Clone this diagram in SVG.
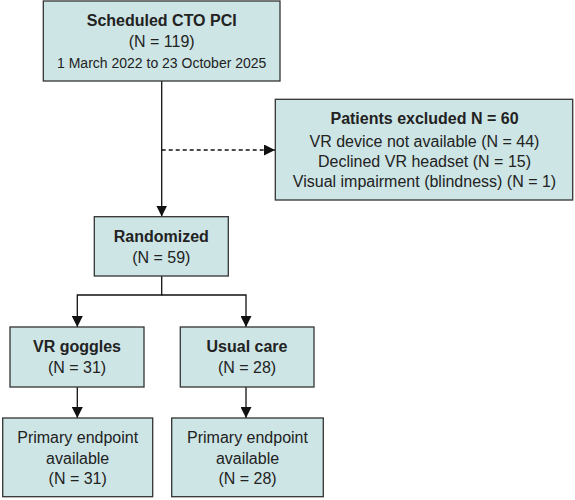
<svg xmlns="http://www.w3.org/2000/svg" width="575" height="500" viewBox="0 0 575 500">
<style>
.box{fill:#cde5e5;stroke:#333;stroke-width:1.3}
.t{font-family:"Liberation Sans",Arial,sans-serif;font-size:16px;fill:#222;text-anchor:middle}
.b{font-weight:bold}
.s{font-size:14px}
.ln{fill:none;stroke:#111;stroke-width:1.3}
.d{stroke-dasharray:4 3}
</style>
<defs>
<marker id="ah" markerWidth="11" markerHeight="11" refX="11" refY="5.5" orient="auto" markerUnits="userSpaceOnUse">
<path d="M0,0 L11,5.5 L0,11 z" fill="#111"/>
</marker>
</defs>
<g id="connectors">
<line class="ln" x1="161.7" y1="81" x2="161.7" y2="216.5" marker-end="url(#ah)"/>
<line class="ln d" x1="161.7" y1="150" x2="275" y2="150" marker-end="url(#ah)"/>
<polyline class="ln" points="161.7,276 161.7,295 77.3,295 77.3,327" marker-end="url(#ah)"/>
<polyline class="ln" points="161.7,295 246,295 246,327" marker-end="url(#ah)"/>
<line class="ln" x1="77.3" y1="387" x2="77.3" y2="418" marker-end="url(#ah)"/>
<line class="ln" x1="246" y1="387" x2="246" y2="418" marker-end="url(#ah)"/>
</g>
<g id="scheduled">
<rect class="box" x="43.3" y="1" width="236.7" height="80"/>
<text class="t b" x="161.7" y="26">Scheduled CTO PCI</text>
<text class="t" x="161.7" y="47.3">(N = 119)</text>
<text class="t s" x="161.7" y="67.7">1 March 2022 to 23 October 2025</text>
</g>
<g id="excluded">
<rect class="box" x="275.3" y="99.3" width="297.4" height="100.7"/>
<text class="t b" x="424.5" y="123.7">Patients excluded N = 60</text>
<text class="t" x="424.5" y="146.7">VR device not available (N = 44)</text>
<text class="t" x="424.5" y="166.7">Declined VR headset (N = 15)</text>
<text class="t" x="424.5" y="186.7">Visual impairment (blindness) (N = 1)</text>
</g>
<g id="randomized">
<rect class="box" x="94.3" y="216.7" width="134" height="59.3"/>
<text class="t b" x="161.3" y="241.7">Randomized</text>
<text class="t" x="161.3" y="262.5">(N = 59)</text>
</g>
<g id="vr">
<rect class="box" x="10" y="327" width="134" height="60"/>
<text class="t b" x="77" y="351.7">VR goggles</text>
<text class="t" x="77" y="373">(N = 31)</text>
</g>
<g id="usual">
<rect class="box" x="180.3" y="327" width="133.7" height="60"/>
<text class="t b" x="247" y="351.7">Usual care</text>
<text class="t" x="247" y="373">(N = 28)</text>
</g>
<g id="primary-vr">
<rect class="box" x="2.7" y="418" width="150" height="78.7"/>
<text class="t" x="77.7" y="443">Primary endpoint</text>
<text class="t" x="77.7" y="463.5">available</text>
<text class="t" x="77.7" y="484">(N = 31)</text>
</g>
<g id="primary-usual">
<rect class="box" x="171.7" y="418" width="151.6" height="78.7"/>
<text class="t" x="247.5" y="443">Primary endpoint</text>
<text class="t" x="247.5" y="463.5">available</text>
<text class="t" x="247.5" y="484">(N = 28)</text>
</g>
</svg>
